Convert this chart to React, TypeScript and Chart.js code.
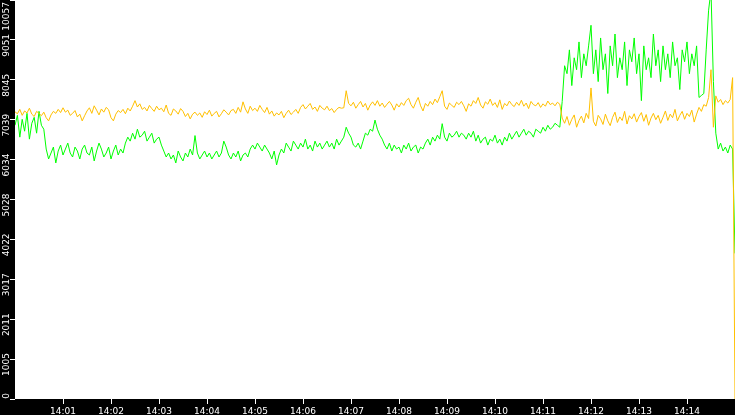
import React, { useEffect, useRef } from 'react';
import { Chart, registerables } from 'chart.js';

Chart.register(...registerables);

const Y_MAX = 10057;
const X_MAX_SECONDS = 900;
const SAMPLE_STEP_S = 3;

const yTickLabels = ['0', '1005', '2011', '3017', '4022', '5028', '6034', '7039', '8045', '9051', '10057'];
const xTickLabels = ['14:01', '14:02', '14:03', '14:04', '14:05', '14:06', '14:07', '14:08', '14:09', '14:10', '14:11', '14:12', '14:13', '14:14'];

const orangeSeries = [
  7240, 7190, 7300, 7150, 7260, 7210, 7330, 7180, 7120, 7250,
  7200, 7140, 7230, 7090, 7010, 7160, 7250, 7200, 7300, 7220,
  7340, 7230, 7280, 7150, 7200, 7270, 7110, 7180, 7010, 7140,
  7260, 7340, 7200, 7390, 7280, 7160, 7310, 7230, 7350, 7290,
  7090, 7010, 7180, 7270, 7220, 7300, 7190, 7330, 7260, 7380,
  7520, 7360, 7440, 7300, 7350, 7260, 7400, 7320, 7250, 7380,
  7290, 7330, 7240, 7410, 7200, 7150, 7310, 7260, 7180, 7320,
  7250, 7120, 7200, 7060, 7180, 7230, 7150, 7210, 7100, 7240,
  7170, 7280, 7130, 7200, 7250, 7110, 7190, 7290, 7230, 7160,
  7270, 7300, 7200, 7350, 7230, 7490, 7310, 7200, 7380, 7270,
  7330, 7250, 7400, 7300, 7220, 7350, 7180, 7260, 7130, 7210,
  7160, 7250, 7090, 7200, 7280, 7170, 7230, 7300, 7200, 7350,
  7420, 7310, 7380, 7450, 7300, 7360, 7250, 7400, 7330, 7290,
  7380, 7270, 7320, 7220, 7300, 7350, 7330, 7340, 7770, 7450,
  7390, 7480, 7330, 7420, 7500, 7360, 7450, 7280, 7410, 7490,
  7400, 7520, 7380, 7460, 7350, 7430, 7500, 7410, 7280, 7440,
  7360, 7470, 7400, 7520, 7580, 7420, 7330, 7480, 7600, 7390,
  7260, 7450, 7380, 7500, 7420, 7560, 7470, 7620, 7770, 7380,
  7300, 7460, 7400, 7350, 7480, 7420, 7500, 7390, 7250, 7440,
  7380, 7520, 7450, 7600, 7410, 7330, 7490, 7430, 7560, 7400,
  7470, 7350, 7540, 7300, 7450, 7390, 7510, 7420, 7370, 7480,
  7400, 7530, 7380, 7460, 7320, 7500, 7420, 7390, 7470, 7350,
  7440, 7380, 7510, 7420, 7460, 7390, 7480, 7430, 7080, 6950,
  7120, 6900, 7050, 7160, 6850, 7020, 7130, 6960, 7200, 7070,
  7840, 7000, 6880, 7150, 7060, 6920, 7180, 7010, 6890, 7100,
  7230, 6970, 7110, 7020, 7250, 6930, 7140, 7060, 7190, 6980,
  7120, 7220, 7000, 7170, 6900, 7080, 7200, 7040, 7150, 6950,
  7100, 7260, 7020, 7180, 7090, 7300, 7010, 7150, 7250, 7050,
  7200, 7120, 7280, 6980, 7180, 7350, 7250, 7420, 7380, 7600,
  8300, 6850, 7640, 7480, 7550, 7420, 7520, 7460, 7550, 8100,
  0,
];

const greenSeries = [
  6900, 7150, 6600, 7050, 6750, 7200, 6550, 6950, 7100, 6700,
  7250, 6900, 6800, 6300, 6050, 6200, 6350, 5950, 6250, 6400,
  6150, 6300, 6450, 6200, 6100, 6350, 6250, 6050, 6300, 6400,
  6200, 6150, 6350, 6000, 6250, 6450, 6300, 6100, 6200, 6350,
  6050, 6250, 6400, 6150, 6300, 6200, 6450, 6600, 6500, 6700,
  6550, 6800, 6600, 6650, 6750, 6500, 6600, 6700, 6450, 6550,
  6600, 6400, 6250, 6100, 6200, 6050, 6150, 5950, 6250, 6100,
  6000, 6200, 6100, 6300, 6150, 6640, 6200, 6050, 6150, 6250,
  6100, 6200, 6050, 6150, 6250, 6100, 6200, 6500, 6350, 6150,
  6050, 6200, 6100, 6250, 6000, 6150, 6200, 6100, 6300, 6400,
  6300, 6450, 6350, 6250, 6400, 6300, 6200, 6050, 6250, 5900,
  6150, 6300, 6200, 6450, 6350, 6250, 6500, 6400, 6300, 6450,
  6350, 6550, 6300, 6400, 6250, 6500, 6350, 6450, 6300, 6400,
  6500, 6350, 6450, 6300, 6550, 6400, 6500, 6600, 6850, 6700,
  6600, 6400, 6350, 6450, 6300, 6500, 6700, 6650, 6800, 6750,
  7030, 6800, 6650, 6550, 6400, 6300, 6450, 6250, 6400, 6300,
  6350, 6200, 6400, 6300, 6450, 6250, 6350, 6400, 6200, 6350,
  6300, 6450, 6550, 6400, 6600, 6500, 6650, 6550, 6940, 6600,
  6500, 6700, 6600, 6650, 6750, 6600, 6700, 6650, 6550, 6700,
  6600, 6750, 6500, 6650, 6450, 6550, 6600, 6400, 6550, 6500,
  6650, 6450, 6550, 6400, 6600, 6500, 6700, 6550, 6650, 6750,
  6600, 6700, 6800, 6650, 6750, 6700, 6600, 6800, 6750, 6700,
  6850, 6750, 6900, 6800, 6850, 6950, 6900, 6850, 7500, 8400,
  8200, 8800, 7900, 8600, 8300, 9000, 8100, 8700, 8400, 8900,
  9420, 8200, 8800, 8000, 9100, 8300, 8700, 7700, 8900, 8400,
  9200, 8100, 8600, 8300, 9000, 7900, 8800, 8500, 9100, 8200,
  8700, 7520, 8900, 8300, 8600, 8100, 9200, 8400, 8800, 8000,
  8900, 8300, 8700, 8100, 9000, 8400, 8600, 7800, 8800, 8500,
  9000, 8200, 8700, 8400, 8900, 7600, 7650, 7700, 8800, 9800,
  10300, 8000, 6700, 6300, 6450, 6250, 6350, 6200, 6400, 6300,
  3670,
];

const timeSeconds = orangeSeries.map((_, i) => i * SAMPLE_STEP_S);

const FONT_FAMILY = "'DejaVu Sans', sans-serif";
const FONT_SIZE = 9;
const tickFont = { family: FONT_FAMILY, size: FONT_SIZE };

const backgroundPlugin = {
  id: 'bgPanels',
  beforeDraw(chart: any) {
    const { ctx, chartArea: a, width, height } = chart;
    ctx.save();
    ctx.fillStyle = '#000000';
    ctx.fillRect(0, 0, width, height);
    ctx.fillStyle = '#ffffff';
    ctx.fillRect(a.left, a.top, a.right - a.left, a.bottom - a.top);
    ctx.restore();
  },
};

// Rotated y-axis labels, kept inside the canvas at the top like the reference
const yLabelPlugin = {
  id: 'yLabels',
  afterDraw(chart: any) {
    const scale = chart.scales.y;
    const { ctx } = chart;
    ctx.save();
    ctx.fillStyle = '#ffffff';
    ctx.font = `${FONT_SIZE}px ${FONT_FAMILY}`;
    ctx.textAlign = 'right';
    ctx.textBaseline = 'middle';
    const x = scale.right - 5 - 3;
    scale.ticks.forEach((t: any, i: number) => {
      const py = scale.getPixelForValue(t.value);
      const anchor = Math.max(py - 6, 2);
      ctx.save();
      ctx.translate(x, anchor);
      ctx.rotate(-Math.PI / 2);
      ctx.fillText(yTickLabels[i], 0, 0);
      ctx.restore();
    });
    ctx.restore();
  },
};

export default function App() {
  const canvasRef = useRef<HTMLCanvasElement | null>(null);

  useEffect(() => {
    document.body.style.margin = '0';
    const canvas = canvasRef.current;
    if (!canvas) return;
    const chart = new Chart(canvas, {
      type: 'line',
      data: {
        labels: timeSeconds,
        datasets: [
          {
            label: 'orange',
            data: orangeSeries,
            borderColor: '#ffc000',
            borderWidth: 1,
            pointRadius: 0,
            tension: 0,
            fill: false,
          },
          {
            label: 'green',
            data: greenSeries,
            borderColor: '#00ff00',
            borderWidth: 1,
            pointRadius: 0,
            tension: 0,
            fill: false,
          },
        ],
      },
      options: {
        responsive: false,
        animation: false,
        devicePixelRatio: 1,
        events: [],
        layout: { padding: 0 },
        plugins: {
          legend: { display: false },
          tooltip: { enabled: false },
          title: { display: false },
        },
        scales: {
          x: {
            type: 'linear',
            min: 0,
            max: X_MAX_SECONDS,
            afterBuildTicks: (s: any) => {
              s.ticks = xTickLabels.map((_, i) => ({ value: (i + 1) * 60 }));
            },
            afterFit: (s: any) => {
              s.height = 16;
              s.paddingLeft = 0;
              s.paddingRight = 0;
            },
            ticks: {
              color: '#ffffff',
              font: tickFont,
              padding: 2,
              minRotation: 0,
              maxRotation: 0,
              autoSkip: false,
              callback: (_v: any, i: number) => xTickLabels[i],
            },
            grid: {
              display: true,
              drawOnChartArea: false,
              drawTicks: true,
              tickLength: 5,
              color: '#ffffff',
            },
            border: { display: false },
          },
          y: {
            type: 'linear',
            min: 0,
            max: Y_MAX,
            afterBuildTicks: (s: any) => {
              s.ticks = yTickLabels.map((_, i) => ({ value: (i * Y_MAX) / 10 }));
            },
            afterFit: (s: any) => {
              s.width = 15;
              s.paddingTop = 0;
              s.paddingBottom = 0;
            },
            ticks: {
              display: false,
              autoSkip: false,
            },
            grid: {
              display: true,
              drawOnChartArea: false,
              drawTicks: true,
              tickLength: 5,
              color: '#ffffff',
            },
            border: { display: false },
          },
        },
      } as any,
      plugins: [backgroundPlugin, yLabelPlugin],
    });
    return () => chart.destroy();
  }, []);

  return (
    <div style={{ width: 735, height: 415, background: '#000' }}>
      <canvas ref={canvasRef} width={735} height={415} style={{ display: 'block', width: 735, height: 415 }} />
    </div>
  );
}
